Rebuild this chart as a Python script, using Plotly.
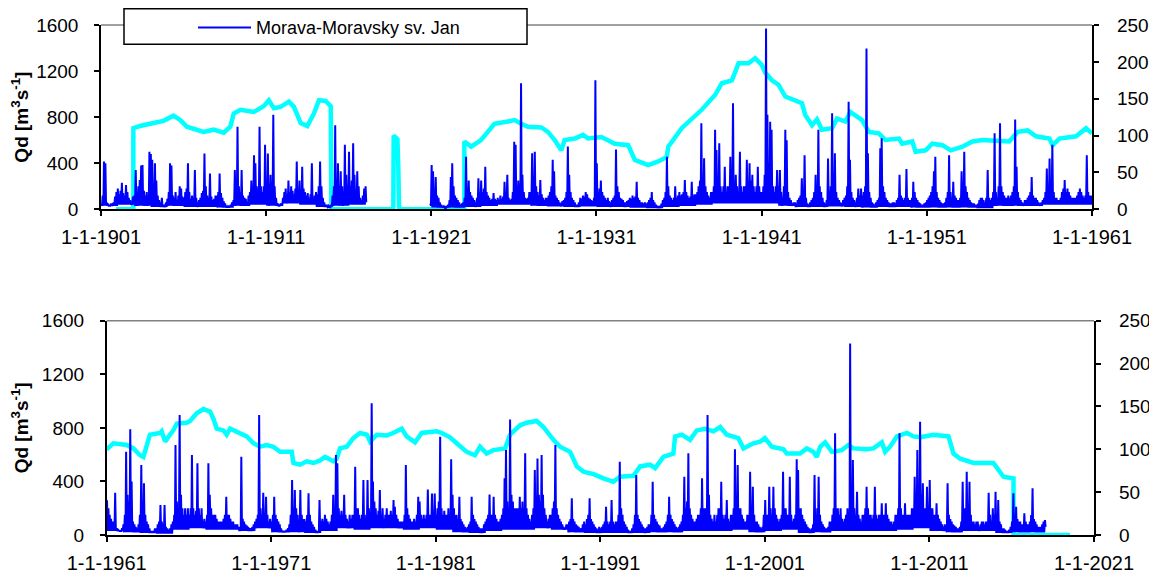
from datetime import datetime
import plotly.graph_objects as go

# ---------------- DATA ----------------
# Daily discharge Qd [m3/s], Morava - Moravsky sv. Jan:
# monthly high values (one row = one year, Jan..Dec) ...
QD_A_START = (1901, 1)
QD_A = [
    50, 120, 415, 400, 60, 40, 30, 50, 40, 60, 110, 150,        # 1901
    180, 130, 160, 230, 140, 120, 210, 150, 100, 80, 50, 110,   # 1902
    120, 340, 150, 200, 255, 380, 385, 160, 120, 150, 90, 500,  # 1903
    480, 430, 200, 400, 250, 120, 80, 60, 100, 40, 30, 60,      # 1904
    90, 150, 400, 380, 120, 100, 150, 80, 120, 200, 180, 110,   # 1905
    100, 150, 180, 400, 150, 90, 120, 100, 340, 100, 60, 80,    # 1906
    100, 140, 160, 485, 200, 120, 100, 310, 110, 80, 90, 120,   # 1907
    120, 150, 310, 140, 100, 70, 50, 30, 25, 30, 40, 60,        # 1908
    80, 340, 150, 717, 200, 150, 340, 120, 100, 90, 60, 120,    # 1909
    150, 250, 180, 470, 400, 200, 150, 717, 200, 150, 200, 560, # 1910
    200, 485, 150, 300, 200, 820, 200, 100, 50, 30, 40, 50,     # 1911
    100, 150, 180, 120, 250, 150, 200, 160, 130, 180, 414, 150, # 1912
    250, 150, 370, 180, 150, 120, 140, 100, 130, 400, 100, 120, # 1913
    150, 130, 200, 414, 200, 100, 60, 40, 30, 30, 25, 40,       # 1914
    120, 200, 730, 250, 400, 200, 330, 200, 150, 560, 300, 200, # 1915
    500, 200, 250, 573, 300, 150, 330, 200, 100, 80, 120, 180,  # 1916
    200,                                                        # 1917 Jan
]
# ... and the low-flow level of each year (1901..1917)
LOW_A = [30, 40, 30, 20, 30, 20, 20, 15, 30, 40, 30, 50, 40, 20, 30, 40, 60]

QD_B_START = (1920, 12)
QD_B = [
    50,                                                          # 1920 Dec
    385, 330, 150, 280, 120, 100, 60, 40, 30, 25, 20, 30,        # 1921
    40, 80, 280, 400, 200, 120, 100, 80, 60, 40, 50, 60,         # 1922
    100, 457, 150, 250, 150, 120, 100, 80, 60, 100, 270, 150,    # 1923
    250, 150, 180, 370, 150, 120, 100, 80, 90, 140, 90, 80,      # 1924
    100, 80, 120, 90, 110, 240, 100, 300, 100, 80, 90, 150,      # 1925
    587, 560, 200, 250, 200, 1094, 300, 150, 100, 90, 100, 150,  # 1926
    150, 486, 200, 500, 200, 150, 120, 255, 130, 100, 80, 100,   # 1927
    100, 120, 150, 200, 430, 330, 120, 100, 80, 60, 50, 70,      # 1928
    80, 100, 150, 545, 300, 150, 100, 80, 60, 40, 40, 60,        # 1929
    100, 90, 120, 110, 150, 130, 100, 90, 80, 70, 100, 1120,     # 1930
    400, 150, 180, 250, 150, 120, 100, 80, 100, 70, 60, 80,      # 1931
    100, 120, 520, 200, 150, 100, 90, 80, 60, 60, 70, 80,        # 1932
    100, 90, 120, 100, 110, 240, 100, 80, 60, 60, 50, 60,        # 1933
    50, 60, 80, 100, 150, 80, 60, 40, 30, 25, 30, 50,            # 1934
    80, 100, 150, 457, 200, 120, 100, 80, 100, 200, 100, 120,    # 1935
    150, 120, 130, 150, 255, 150, 120, 100, 110, 240, 120, 130,  # 1936
    130, 150, 200, 250, 746, 200, 443, 200, 150, 120, 100, 150,  # 1937
    150, 200, 690, 515, 200, 573, 200, 150, 200, 370, 150, 200,  # 1938
    200, 457, 250, 920, 200, 300, 200, 150, 500, 200, 150, 200,  # 1939
    200, 430, 200, 400, 250, 300, 200, 150, 200, 370, 200, 150,  # 1940
    150, 200, 300, 1570, 820, 400, 760, 690, 200, 150, 200, 340, # 1941
    200, 340, 150, 100, 200, 690, 600, 150, 100, 80, 50, 60,     # 1942
    60, 50, 80, 100, 120, 270, 150, 470, 100, 50, 40, 60,        # 1943
    80, 100, 150, 300, 150, 690, 200, 150, 100, 60, 50, 80,      # 1944
    440, 150, 200, 833, 200, 486, 150, 100, 80, 60, 50, 80,      # 1945
    100, 120, 200, 934, 430, 150, 100, 80, 60, 100, 180, 120,    # 1946
    180, 120, 150, 200, 1397, 486, 150, 100, 60, 50, 40, 60,     # 1947
    80, 100, 530, 616, 200, 150, 100, 80, 60, 50, 50, 60,        # 1948
    60, 50, 80, 100, 300, 120, 100, 80, 100, 350, 100, 80,       # 1949
    80, 100, 240, 150, 100, 80, 60, 50, 40, 40, 50, 60,          # 1950
    80, 100, 120, 150, 200, 330, 457, 150, 100, 80, 60, 50,      # 1951
    50, 60, 100, 150, 470, 150, 100, 240, 120, 100, 80, 80,      # 1952
    100, 330, 150, 500, 200, 150, 100, 80, 60, 50, 50, 40,       # 1953
    40, 50, 80, 100, 100, 80, 60, 100, 340, 100, 80, 100,        # 1954
    150, 660, 150, 100, 200, 746, 200, 150, 120, 100, 100, 120,  # 1955
    100, 120, 150, 200, 780, 370, 150, 100, 80, 60, 50, 80,      # 1956
    80, 100, 120, 150, 280, 120, 100, 100, 80, 60, 50, 60,       # 1957
    80, 100, 150, 355, 200, 440, 200, 560, 150, 100, 100, 80,    # 1958
    80, 100, 150, 180, 255, 150, 180, 150, 120, 100, 100, 100,   # 1959
    100, 120, 150, 180, 150, 120, 100, 120, 470, 150, 120, 120,  # 1960
]
# low-flow level of each year (1920..1960)
LOW_B = [30,
         15, 15, 20, 30, 40, 40, 30, 25, 20, 25,
         20, 20, 15, 10, 20, 30, 40, 50, 50, 50,
         50, 30, 20, 20, 25, 20, 15, 20, 20, 15,
         15, 15, 15, 10, 30, 30, 30, 40, 40, 40]

QD_C_START = (1961, 1)
QD_C = [
    260, 200, 150, 120, 100, 100, 316, 50, 40, 30, 30, 50,       # 1961
    80, 150, 622, 300, 250, 789, 400, 100, 80, 60, 50, 80,       # 1962
    150, 522, 200, 386, 150, 100, 80, 50, 30, 30, 30, 50,        # 1963
    50, 80, 100, 224, 100, 80, 224, 60, 50, 40, 50, 80,          # 1964
    100, 150, 672, 250, 200, 896, 300, 200, 150, 200, 150, 200,  # 1965
    150, 200, 597, 200, 150, 180, 535, 200, 150, 200, 100, 120,  # 1966
    100, 150, 535, 300, 200, 150, 150, 150, 120, 100, 100, 100,  # 1967
    100, 120, 150, 286, 150, 150, 120, 100, 100, 80, 80, 80,     # 1968
    60, 50, 585, 120, 100, 80, 70, 60, 50, 50, 60, 80,           # 1969
    100, 120, 150, 896, 200, 150, 316, 150, 286, 150, 100, 120,  # 1970
    100, 150, 286, 150, 120, 100, 80, 50, 30, 30, 30, 40,        # 1971
    50, 80, 150, 410, 200, 336, 200, 150, 100, 336, 150, 120,    # 1972
    120, 100, 150, 311, 150, 100, 80, 60, 40, 30, 30, 261,       # 1973
    100, 120, 100, 150, 120, 100, 80, 100, 150, 300, 150, 597,   # 1974
    535, 200, 150, 180, 150, 300, 150, 120, 100, 150, 120, 150,  # 1975
    150, 510, 200, 200, 150, 120, 150, 410, 150, 120, 410, 200,  # 1976
    150, 983, 400, 250, 200, 150, 180, 336, 150, 200, 120, 150,  # 1977
    200, 150, 150, 180, 150, 261, 211, 150, 120, 100, 100, 100,  # 1978
    100, 150, 522, 200, 150, 120, 100, 100, 120, 100, 150, 286,  # 1979
    250, 150, 120, 150, 120, 150, 340, 150, 150, 310, 150, 310,  # 1980
    150, 200, 250, 734, 200, 150, 180, 150, 150, 200, 150, 565,  # 1981
    300, 200, 150, 150, 120, 286, 120, 100, 80, 60, 50, 60,      # 1982
    80, 100, 286, 150, 120, 100, 80, 60, 50, 50, 50, 80,         # 1983
    100, 120, 150, 303, 150, 150, 286, 150, 120, 100, 100, 120,  # 1984
    150, 200, 423, 634, 250, 200, 863, 300, 250, 200, 200, 200,  # 1985
    200, 286, 200, 250, 200, 610, 200, 150, 120, 100, 150, 200,  # 1986
    485, 250, 572, 300, 250, 597, 300, 200, 150, 100, 120, 150,  # 1987
    150, 200, 250, 672, 200, 150, 120, 100, 80, 60, 50, 80,      # 1988
    80, 100, 120, 274, 120, 100, 80, 70, 60, 50, 50, 80,         # 1989
    100, 80, 120, 150, 274, 120, 100, 80, 60, 50, 40, 60,        # 1990
    50, 60, 80, 100, 211, 100, 80, 100, 261, 100, 80, 100,       # 1991
    100, 150, 547, 200, 150, 100, 80, 60, 40, 30, 30, 50,        # 1992
    80, 150, 448, 150, 120, 100, 80, 60, 50, 50, 60, 80,         # 1993
    80, 150, 398, 150, 120, 100, 80, 70, 50, 50, 60, 80,         # 1994
    100, 150, 286, 150, 120, 100, 80, 60, 50, 60, 80, 100,       # 1995
    150, 435, 200, 250, 610, 200, 150, 120, 100, 100, 120, 150,  # 1996
    150, 200, 423, 200, 200, 200, 896, 300, 150, 120, 100, 150,  # 1997
    100, 150, 200, 200, 398, 150, 120, 150, 261, 120, 100, 150,  # 1998
    150, 200, 640, 250, 522, 200, 200, 150, 120, 100, 100, 150,  # 1999
    150, 473, 200, 360, 150, 100, 100, 80, 60, 50, 60, 150,      # 2000
    261, 150, 150, 360, 200, 150, 360, 200, 150, 120, 100, 120,  # 2001
    150, 473, 200, 200, 150, 150, 435, 150, 100, 120, 150, 565,  # 2002
    485, 200, 200, 150, 120, 100, 80, 60, 50, 40, 50, 80,        # 2003
    448, 150, 200, 435, 150, 100, 80, 60, 50, 50, 60, 100,       # 2004
    100, 150, 200, 759, 200, 200, 150, 200, 120, 100, 120, 150,  # 2005
    200, 150, 1430, 300, 560, 200, 150, 323, 150, 120, 100, 150, # 2006
    150, 200, 360, 200, 150, 150, 120, 150, 360, 150, 120, 150,  # 2007
    150, 236, 150, 150, 236, 150, 120, 100, 100, 80, 100, 150,   # 2008
    150, 200, 759, 200, 150, 150, 236, 150, 150, 150, 150, 200,  # 2009
    200, 435, 250, 634, 300, 846, 300, 386, 200, 200, 360, 200,  # 2010
    410, 200, 200, 150, 150, 236, 150, 120, 100, 80, 60, 80,     # 2011
    50, 386, 150, 120, 100, 80, 70, 60, 50, 50, 60, 100,         # 2012
    398, 200, 200, 473, 200, 398, 150, 100, 100, 80, 100, 100,   # 2013
    50, 80, 100, 100, 80, 100, 100, 316, 150, 100, 200, 150,     # 2014
    323, 150, 261, 100, 80, 50, 50, 40, 30, 30, 40, 60,          # 2015
    100, 311, 150, 211, 120, 100, 100, 80, 80, 162, 100, 80,     # 2016
    80, 100, 150, 348, 120, 100, 80, 60, 60, 60, 80, 100,        # 2017
    112,                                                         # 2018 Jan
]
# low-flow level of each year (1961..2018)
LOW_C = [30, 20, 15, 10, 40, 50, 40, 40, 30, 50,
         20, 20, 15, 30, 50, 40, 50, 50, 40, 50,
         40, 20, 15, 30, 40, 40, 50, 40, 20, 15,
         15, 15, 15, 20, 20, 30, 30, 30, 40, 20,
         30, 40, 15, 20, 30, 30, 30, 30, 40, 50,
         30, 20, 30, 30, 15, 20, 20, 60]

# Smoothed series (right axis), decimal year / value
CYAN_TOP_T = [1901.91, 1902.96, 1902.96, 1903.37, 1904.18, 1904.79, 1905.39, 1905.80,
              1906.20, 1907.21, 1907.82, 1908.43, 1908.83, 1909.04, 1909.44, 1910.25,
              1910.86, 1911.16, 1911.47, 1911.87, 1912.38, 1912.68, 1913.09, 1913.49,
              1913.89, 1914.20, 1914.60, 1914.91, 1914.95, 1918.70, 1918.72, 1918.95,
              1919.00, 1919.05, 1923.00, 1923.00, 1923.41, 1924.01, 1924.42, 1924.82,
              1925.63, 1926.04, 1926.44, 1926.85, 1927.66, 1928.06, 1928.47, 1928.87,
              1929.07, 1929.68, 1930.19, 1930.49, 1931.30, 1932.11, 1932.92, 1933.32,
              1934.13, 1934.74, 1935.25, 1935.35, 1936.16, 1936.77, 1937.37, 1938.18,
              1938.59, 1939.20, 1939.60, 1940.21, 1940.61, 1941.00, 1941.20, 1941.62,
              1942.02, 1942.43, 1943.03, 1943.44, 1943.64, 1944.05, 1944.35, 1944.65,
              1945.26, 1945.56, 1946.07, 1946.37, 1947.08, 1947.49, 1948.09, 1948.50,
              1949.31, 1949.51, 1950.12, 1950.32, 1950.93, 1951.33, 1951.94, 1952.45,
              1953.16, 1953.76, 1954.37, 1955.99, 1956.50, 1957.10, 1957.61, 1958.42,
              1958.62, 1959.03, 1960.04, 1960.64, 1961.00]
CYAN_TOP_V = [0, 0, 110, 113, 117, 120, 127, 121,
              112, 105, 108, 104, 112, 130, 135, 132,
              140, 148, 137, 139, 146, 139, 117, 113,
              130, 148, 147, 140, 0, 0, 100, 95,
              58, 0, 0, 92, 85, 94, 105, 116,
              119, 121, 116, 112, 111, 105, 94, 80,
              94, 96, 101, 96, 98, 89, 87, 67,
              60, 65, 71, 85, 110, 123, 135, 155,
              171, 175, 198, 198, 205, 196, 186, 175,
              169, 153, 148, 144, 128, 114, 122, 108,
              110, 123, 119, 132, 121, 105, 103, 94,
              96, 89, 92, 78, 80, 89, 87, 80,
              85, 92, 94, 92, 105, 107, 99, 96,
              87, 96, 99, 110, 103]

CYAN_BOT_T = [1961.00, 1961.41, 1962.22, 1962.62, 1963.03, 1963.23, 1963.63, 1964.24,
              1964.34, 1964.55, 1964.85, 1965.05, 1965.26, 1965.86, 1966.07, 1966.47,
              1966.88, 1967.28, 1967.48, 1967.69, 1968.09, 1968.29, 1968.50, 1968.70,
              1969.11, 1969.51, 1969.92, 1970.32, 1970.73, 1971.13, 1971.54, 1972.14,
              1972.25, 1972.35, 1972.75, 1973.16, 1973.56, 1973.97, 1974.27, 1974.78,
              1974.98, 1975.18, 1975.59, 1975.99, 1976.40, 1976.81, 1977.01, 1977.41,
              1978.02, 1978.40, 1978.93, 1979.23, 1979.74, 1980.14, 1981.05, 1981.36,
              1981.86, 1982.27, 1982.88, 1983.38, 1983.69, 1984.09, 1984.50, 1985.21,
              1985.51, 1986.12, 1986.53, 1987.13, 1987.54, 1988.15, 1988.55, 1989.16,
              1989.57, 1989.97, 1990.58, 1991.19, 1991.79, 1992.20, 1993.01, 1993.42,
              1994.02, 1994.33, 1994.83, 1995.44, 1995.54, 1995.95, 1996.45, 1996.86,
              1997.37, 1997.87, 1998.28, 1998.68, 1999.39, 1999.70, 2000.30, 2000.71,
              2001.00, 2001.42, 2002.13, 2002.33, 2003.14, 2003.55, 2003.95, 2004.15,
              2004.36, 2004.66, 2005.07, 2005.67, 2006.08, 2006.38, 2007.19, 2007.60,
              2008.11, 2008.31, 2008.61, 2009.02, 2009.63, 2010.03, 2010.44, 2011.25,
              2012.16, 2012.46, 2012.87, 2013.68, 2014.89, 2015.50, 2016.11, 2016.11,
              2019.55]
CYAN_BOT_V = [100, 107, 105, 101, 93, 91, 117, 119,
              121, 109, 117, 122, 130, 131, 133, 142,
              147, 144, 136, 124, 122, 117, 124, 122,
              119, 115, 107, 103, 105, 103, 97, 96,
              97, 84, 82, 86, 84, 87, 91, 86,
              89, 101, 103, 113, 119, 117, 109, 117,
              116, 119, 124, 115, 108, 119, 121, 119,
              114, 107, 97, 93, 103, 95, 99, 101,
              117, 128, 131, 133, 126, 111, 103, 97,
              80, 74, 71, 66, 62, 68, 69, 80,
              82, 78, 91, 95, 115, 117, 111, 122,
              124, 121, 126, 117, 113, 101, 107, 109,
              113, 103, 100, 95, 95, 101, 97, 91,
              103, 108, 97, 99, 105, 101, 100, 101,
              108, 97, 103, 115, 119, 115, 114, 117,
              115, 95, 89, 84, 84, 68, 66, 0,
              0]

SERIES_NAME = "Morava-Moravsky sv. Jan"
Y_LEFT_TICKS = [0, 400, 800, 1200, 1600]
Y_RIGHT_TICKS = [0, 50, 100, 150, 200, 250]
TOP_YEARS = list(range(1901, 1962, 10))
BOT_YEARS = list(range(1961, 2022, 10))


# ---------------- HELPERS ----------------
def dec2dt(y):
    yr = int(y)
    frac = y - yr
    a = datetime(yr, 1, 1)
    b = datetime(yr + 1, 1, 1)
    return a + (b - a) * frac


def high_low_series(start, highs, lows):
    """Each month: its high value (around day 8) then the year's low flow (day 23)."""
    y0, m0 = start
    xs, ys = [], []
    for i, v in enumerate(highs):
        k = (m0 - 1) + i
        yr, mo = y0 + k // 12, k % 12 + 1
        low = lows[yr - y0]
        xs += [datetime(yr, mo, 8), datetime(yr, mo, 23)]
        ys += [v, low]
    return xs, ys


# the page body has an 8 px margin: the figure starts at (8, 8) in the window
OFF = 8
W, H = 1157 - OFF, 575 - OFF
FONT = "Liberation Sans, Arial, sans-serif"
BLUE = "#0000FF"
CYAN = "#00FFFF"
RIGHT_PAD = "\u2007\u2009"   # gap between the right axis and its labels


def px(x):
    return (x - OFF) / W


def py(y):
    return 1 - (y - OFF) / H


ax_, ay_ = high_low_series(QD_A_START, QD_A, LOW_A)
bx_, by_ = high_low_series(QD_B_START, QD_B, LOW_B)
top_x = ax_ + [None] + bx_
top_y = ay_ + [None] + by_
bot_x, bot_y = high_low_series(QD_C_START, QD_C, LOW_C)

fig = go.Figure()
# smoothed series on the base (right) axes, drawn underneath
fig.add_trace(go.Scatter(x=[dec2dt(t) for t in CYAN_TOP_T], y=CYAN_TOP_V, mode="lines",
                         line=dict(color=CYAN, width=4.5), xaxis="x", yaxis="y",
                         showlegend=False, hoverinfo="skip"))
fig.add_trace(go.Scatter(x=[dec2dt(t) for t in CYAN_BOT_T], y=CYAN_BOT_V, mode="lines",
                         line=dict(color=CYAN, width=4.5), xaxis="x2", yaxis="y3",
                         showlegend=False, hoverinfo="skip"))
# daily discharge on overlaying (left) axes
fig.add_trace(go.Scatter(x=top_x, y=top_y, mode="lines", name=SERIES_NAME,
                         line=dict(color=BLUE, width=2), xaxis="x", yaxis="y2",
                         connectgaps=False, showlegend=True))
fig.add_trace(go.Scatter(x=bot_x, y=bot_y, mode="lines", name=SERIES_NAME,
                         line=dict(color=BLUE, width=2), xaxis="x2", yaxis="y4",
                         showlegend=False))

top_dom = [py(209.3), py(25)]
bot_dom = [py(535), py(320.7)]

axis_common = dict(showgrid=False, zeroline=False, showline=True, linecolor="black",
                   linewidth=1.5, ticks="outside", ticklen=5, tickcolor="black",
                   tickwidth=1.5, automargin=False)

def xaxis(dom, anchor, years):
    return dict(domain=dom, anchor=anchor, type="date",
                range=[datetime(years[0], 1, 1), datetime(years[-1], 1, 1)],
                tickvals=[datetime(y, 1, 1) for y in years],
                ticktext=["1-1-%d" % y for y in years],
                tickfont=dict(family=FONT, size=20, color="black"),
                ticklabelstandoff=4, **axis_common)

def yright(dom, anchor):
    return dict(domain=dom, anchor=anchor, side="right", range=[0, 250],
                tickvals=Y_RIGHT_TICKS,
                ticktext=[RIGHT_PAD + str(v) for v in Y_RIGHT_TICKS],
                tickfont=dict(family=FONT, size=19, color="black"),
                **axis_common)

def yleft(over, anchor):
    return dict(overlaying=over, anchor=anchor, side="left", range=[0, 1600],
                tickvals=Y_LEFT_TICKS, ticktext=[str(v) for v in Y_LEFT_TICKS],
                tickfont=dict(family=FONT, size=19, color="black"),
                ticklabelstandoff=12,
                title=dict(text="<b>Qd [m<sup>3</sup>s<sup>-1</sup>]</b>",
                           font=dict(family=FONT, size=19, color="black"), standoff=14),
                **axis_common)

fig.update_layout(
    width=W, height=H, autosize=False,
    margin=dict(l=0, r=0, t=0, b=0, autoexpand=False),
    paper_bgcolor="white", plot_bgcolor="white",
    font=dict(family=FONT, color="black"),
    xaxis=xaxis([px(101), px(1092)], "y", TOP_YEARS),
    yaxis=yright(top_dom, "x"),
    yaxis2=yleft("y", "x"),
    xaxis2=xaxis([px(106.7), px(1094)], "y3", BOT_YEARS),
    yaxis3=yright(bot_dom, "x2"),
    yaxis4=yleft("y3", "x2"),
    showlegend=True,
    legend=dict(x=px(193), y=py(9.2), xanchor="left", yanchor="top",
                bgcolor="rgba(0,0,0,0)", borderwidth=0, itemwidth=53,
                font=dict(family=FONT, size=18, color="black")),
    shapes=[
        dict(type="line", xref="x domain", yref="y domain", x0=0, x1=1, y0=1, y1=1,
             line=dict(color="#808080", width=1.5), layer="above"),
        dict(type="line", xref="x2 domain", yref="y3 domain", x0=0, x1=1, y0=1, y1=1,
             line=dict(color="#808080", width=1.5), layer="above"),
        dict(type="rect", xref="paper", yref="paper", x0=px(124), x1=px(527),
             y0=py(44.3), y1=py(8.8), fillcolor="white",
             line=dict(color="black", width=1.5), layer="above"),
    ],
)

fig.write_html("out.html")
